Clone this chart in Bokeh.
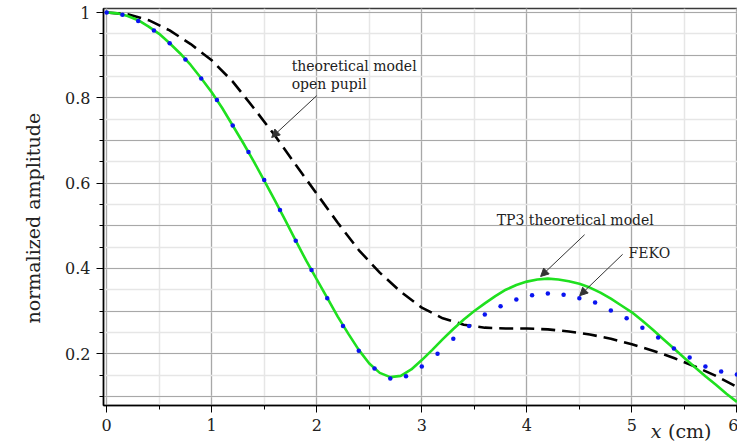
import numpy as np
from bokeh.plotting import figure
from bokeh.models import (SingleIntervalTicker, CustomJSTickFormatter, Label, Arrow, NormalHead, Range1d, Title)
from bokeh.embed import file_html
from bokeh.resources import INLINE

# ---- data ----
feko_x = [round(0.15 * i, 2) for i in range(41)]
feko_y = [1.000, 0.995, 0.980, 0.958, 0.928, 0.890, 0.845, 0.795, 0.735, 0.673,
          0.607, 0.537, 0.465, 0.396, 0.330, 0.265, 0.207, 0.165, 0.142, 0.147,
          0.170, 0.200, 0.235, 0.265, 0.292, 0.311, 0.327, 0.337, 0.341, 0.338,
          0.330, 0.320, 0.301, 0.283, 0.261, 0.238, 0.212, 0.191, 0.170, 0.158, 0.151]

tp3_x = [round(0.1 * i, 1) for i in range(61)]
tp3_y = [1.000, 0.998, 0.992, 0.982, 0.967, 0.950, 0.928, 0.904, 0.877, 0.846,
         0.813, 0.776, 0.735, 0.694, 0.651, 0.606, 0.560, 0.513, 0.465, 0.418,
         0.374, 0.331, 0.287, 0.247, 0.209, 0.177, 0.155, 0.145, 0.148, 0.163,
         0.185, 0.209, 0.234, 0.258, 0.280, 0.300, 0.318, 0.335, 0.350, 0.361,
         0.369, 0.374, 0.376, 0.374, 0.370, 0.364, 0.355, 0.343, 0.329, 0.313,
         0.297, 0.277, 0.256, 0.234, 0.212, 0.190, 0.168, 0.147, 0.127, 0.106, 0.087]

open_x = [round(0.2 * i, 1) for i in range(31)]
open_y = [1.000, 0.996, 0.982, 0.958, 0.926, 0.888, 0.838, 0.776, 0.712, 0.643,
          0.575, 0.507, 0.443, 0.390, 0.345, 0.308, 0.283, 0.268, 0.261, 0.259,
          0.259, 0.257, 0.252, 0.245, 0.235, 0.222, 0.207, 0.190, 0.170, 0.148, 0.122]

x_var_label = "x"
x_unit_label = "(cm)"
y_label = "normalized amplitude"

# ---- figure ----
p = figure(frame_width=635, frame_height=397, output_backend="svg", toolbar_location=None,
           x_range=Range1d(-0.03, 6.015), y_range=Range1d(0.0785, 1.0094),
           min_border_left=102, min_border_right=0, min_border_top=8, min_border_bottom=39)
p.background_fill_color = "white"
p.border_fill_color = "white"
p.outline_line_color = "#3a3a3a"
p.outline_line_width = 1.5

serif = "DejaVu Serif"
txt_color = "#222222"

# axes
p.xaxis.ticker = SingleIntervalTicker(interval=1, num_minor_ticks=2)
p.yaxis.ticker = SingleIntervalTicker(interval=0.2, num_minor_ticks=4)
p.yaxis.formatter = CustomJSTickFormatter(code="return tick.toFixed(1).replace(/\\.0$/, '');")
p.xaxis.formatter = CustomJSTickFormatter(code="return tick.toFixed(0);")
for ax in (p.xaxis[0], p.yaxis[0]):
    ax.axis_line_color = "black"
    ax.axis_line_width = 1.5
    ax.major_tick_line_color = "black"
    ax.minor_tick_line_color = "black"
    ax.major_tick_out = 7
    ax.major_tick_in = 0
    ax.minor_tick_out = 4
    ax.minor_tick_in = 0
    ax.major_label_text_font = serif
    ax.major_label_text_font_size = "16px"
    ax.major_label_text_color = txt_color
    ax.major_label_standoff = 6

# y axis title in the left panel
p.add_layout(Title(text=y_label, text_font=serif, text_font_size="19px",
                   text_font_style="normal", text_color=txt_color,
                   align="left", offset=82, standoff=38), "left")

# x axis title pieces in the bottom panel
p.add_layout(Title(text=x_unit_label, text_font=serif, text_font_size="19px",
                   text_font_style="normal", text_color=txt_color, vertical_align="top",
                   align="right", offset=27, standoff=-27), "below")
p.add_layout(Title(text=x_var_label, text_font=serif, text_font_size="19px",
                   text_font_style="italic", text_color=txt_color, vertical_align="top",
                   align="right", offset=77, standoff=-27), "below")

# grids
p.xgrid.ticker = SingleIntervalTicker(interval=1, num_minor_ticks=2)
p.ygrid.ticker = SingleIntervalTicker(interval=0.1, num_minor_ticks=2)
for g in (p.xgrid[0], p.ygrid[0]):
    g.grid_line_color = "#a8a8a8"
    g.grid_line_width = 1.2
    g.minor_grid_line_color = "#e6e6e6"
    g.minor_grid_line_width = 1.5

# series
p.line(open_x, open_y, line_color="black", line_width=2.6, line_dash="14 7")
p.line(tp3_x, tp3_y, line_color="#1fe01f", line_width=2.6)
p.scatter(feko_x, feko_y, size=4.5, color="#0a14f0", line_width=0)

# annotations
def add_text(x, y, t, size="14px", style="normal", align="left"):
    p.add_layout(Label(x=x, y=y, text=t, text_font=serif, text_font_size=size,
                       text_font_style=style, text_color=txt_color,
                       text_align=align, text_baseline="alphabetic"))

add_text(1.761, 0.8734, "theoretical model")
add_text(1.761, 0.8312, "open pupil")
add_text(3.713, 0.5123, "TP3 theoretical model")
add_text(4.969, 0.435, "FEKO")

def add_arrow(xs, ys, xe, ye):
    p.add_layout(Arrow(end=NormalHead(size=8, fill_color="#333333", line_color="#333333", line_width=1),
                       x_start=xs, y_start=ys, x_end=xe, y_end=ye,
                       line_color="#333333", line_width=1))

add_arrow(2.0, 0.805, 1.571, 0.707)
add_arrow(4.55, 0.479, 4.131, 0.381)
add_arrow(4.912, 0.433, 4.503, 0.336)

open("out.html", "w").write(file_html(p, INLINE))
